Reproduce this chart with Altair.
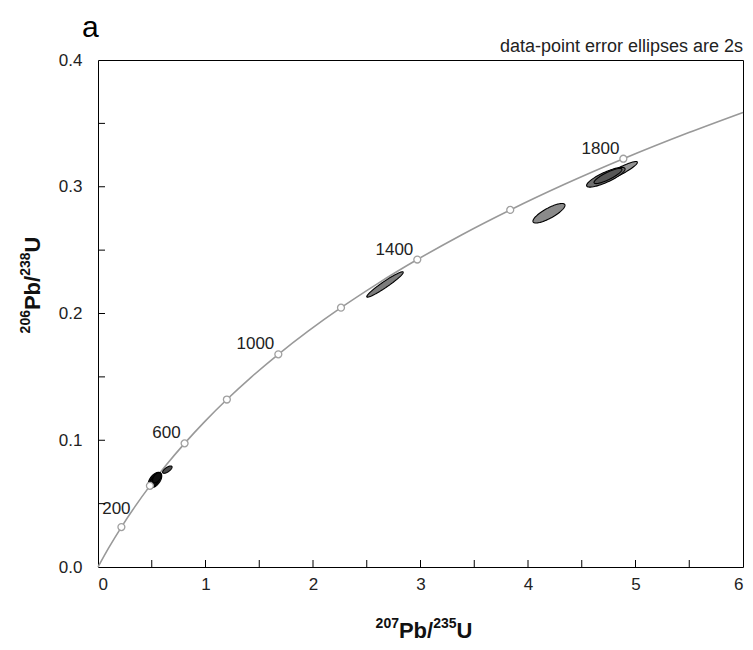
import numpy as np
import pandas as pd
import altair as alt

# Concordia curve points (207Pb/235U, 206Pb/238U), ages in Ma
curve_age = [0, 100, 200, 300, 400, 500, 600, 700, 800, 900, 1000, 1100, 1200,
             1300, 1400, 1500, 1600, 1700, 1800, 1900, 1976]
curve_x = [0.0, 0.1035, 0.2177, 0.3437, 0.4828, 0.6363, 0.8056, 0.9925, 1.1988,
           1.4263, 1.6775, 1.9546, 2.2604, 2.5978, 2.9702, 3.3811, 3.8346, 4.3349,
           4.8871, 5.4964, 6.0]
curve_y = [0.0, 0.01563, 0.03151, 0.04764, 0.06402, 0.08065, 0.09754, 0.11470,
           0.13213, 0.14983, 0.16780, 0.18606, 0.20460, 0.22343, 0.24256, 0.26199,
           0.28171, 0.30175, 0.32210, 0.34277, 0.35867]

# Age markers (every 200 Ma) and labelled ages
marker_ages = [200, 400, 600, 800, 1000, 1200, 1400, 1600, 1800]
label_ages = [200, 600, 1000, 1400, 1800]

# Error ellipses: centre, 2s half-widths, error correlation, fill tone
ell_id = ["e3b", "e3a", "e3c", "e1", "e2", "e4a", "e4b", "e4c", "e5"]
ell_cx = [4.844, 4.724, 4.744, 2.670, 4.195, 0.530, 0.515, 0.548, 0.645]
ell_cy = [0.3118, 0.3075, 0.3085, 0.2229, 0.2791, 0.0686, 0.0668, 0.0705, 0.0768]
ell_sx = [0.174, 0.179, 0.130, 0.170, 0.149, 0.063, 0.045, 0.040, 0.044]
ell_sy = [0.0081, 0.0078, 0.0060, 0.0100, 0.0077, 0.0061, 0.0048, 0.0040, 0.0029]
ell_rho = [0.92, 0.83, 0.85, 0.958, 0.81, 0.52, 0.60, 0.50, 0.70]
ell_fill = ["#959595", "#6e6e6e", "#575757", "#7c7c7c", "#8a8a8a",
            "#111111", "#111111", "#111111", "#4a4a4a"]

x_tick_vals = [0.5, 1, 1.5, 2, 2.5, 3, 3.5, 4, 4.5, 5, 5.5]
y_tick_vals = [0.05, 0.1, 0.15, 0.2, 0.25, 0.3, 0.35]
x_label_vals = [0, 1, 2, 3, 4, 5, 6]
y_label_vals = [0.0, 0.1, 0.2, 0.3, 0.4]

W, H = 645, 507
FONT = "Liberation Sans"
MAIN, SUP = 22, 14

curve_df = pd.DataFrame({"age": curve_age, "x": curve_x, "y": curve_y})
markers_df = curve_df[curve_df["age"].isin(marker_ages)]
labels_df = curve_df[curve_df["age"].isin(label_ages)].copy()
labels_df["label"] = labels_df["age"].astype(str)

xscale = alt.Scale(domain=[0, 6], nice=False, zero=False)
yscale = alt.Scale(domain=[0, 0.4], nice=False, zero=False)

xaxis = alt.Axis(values=x_label_vals, format="d", ticks=False, domain=False, grid=False,
                 labelFont=FONT, labelFontSize=17, labelColor="#222", labelPadding=9,
                 title=None)
yaxis = alt.Axis(values=y_label_vals, format=".1f", ticks=False, domain=False, grid=False,
                 labelFont=FONT, labelFontSize=17, labelColor="#222", labelPadding=16,
                 title=None)

layers = []

layers.append(alt.Chart(curve_df).mark_line(color="#999999", strokeWidth=1.6,
                                            interpolate="monotone").encode(
    x=alt.X("x:Q", scale=xscale, axis=xaxis),
    y=alt.Y("y:Q", scale=yscale, axis=yaxis),
    order="age:Q",
))

# Error ellipses: filled area (upper/lower halves) + closed outline
tt = np.linspace(0, np.pi, 73)
tt2 = np.linspace(0, 2 * np.pi, 121)
for k, eid in enumerate(ell_id):
    r = ell_rho[k]
    q = np.sqrt(1 - r * r)
    c, s = np.cos(tt), np.sin(tt)
    fill_df = pd.DataFrame({
        "x": ell_cx[k] + ell_sx[k] * c,
        "y": ell_cy[k] + ell_sy[k] * (r * c + q * s),
        "y2": ell_cy[k] + ell_sy[k] * (r * c - q * s),
    }).sort_values("x")
    c2, s2 = np.cos(tt2), np.sin(tt2)
    line_df = pd.DataFrame({
        "t": np.arange(len(tt2)),
        "x": ell_cx[k] + ell_sx[k] * c2,
        "y": ell_cy[k] + ell_sy[k] * (r * c2 + q * s2),
    })
    layers.append(alt.Chart(fill_df).mark_area(color=ell_fill[k], opacity=1).encode(
        x=alt.X("x:Q", scale=xscale),
        y=alt.Y("y:Q", scale=yscale),
        y2="y2:Q",
    ))
    layers.append(alt.Chart(line_df).mark_line(color="#000000", strokeWidth=1.1).encode(
        x=alt.X("x:Q", scale=xscale),
        y=alt.Y("y:Q", scale=yscale),
        order="t:Q",
    ))

layers.append(alt.Chart(markers_df).mark_point(shape="circle", filled=True, fill="white",
                                               stroke="#a0a0a0", strokeWidth=1.3,
                                               size=48, opacity=1).encode(
    x=alt.X("x:Q", scale=xscale),
    y=alt.Y("y:Q", scale=yscale),
))

layers.append(alt.Chart(labels_df[labels_df["age"] != 200]).mark_text(
    align="right", baseline="alphabetic", dx=-4, dy=-5,
    font=FONT, fontSize=17, color="#222").encode(
    x=alt.X("x:Q", scale=xscale),
    y=alt.Y("y:Q", scale=yscale),
    text="label:N",
))
layers.append(alt.Chart(labels_df[labels_df["age"] == 200]).mark_text(
    align="center", baseline="alphabetic", dx=-5, dy=-13,
    font=FONT, fontSize=17, color="#222").encode(
    x=alt.X("x:Q", scale=xscale),
    y=alt.Y("y:Q", scale=yscale),
    text="label:N",
))

layers.append(alt.Chart(pd.DataFrame({"x": x_tick_vals})).mark_rule(
    color="#000", strokeWidth=1).encode(
    x=alt.X("x:Q", scale=xscale),
    y=alt.value(H), y2=alt.value(H - 7),
))
layers.append(alt.Chart(pd.DataFrame({"y": y_tick_vals})).mark_rule(
    color="#000", strokeWidth=1).encode(
    y=alt.Y("y:Q", scale=yscale),
    x=alt.value(0), x2=alt.value(7),
))


def text_layer(txt, px, py, size, bold=False, font=FONT, angle=None, baseline="alphabetic",
               align="left", color="#111"):
    kw = dict(align=align, baseline=baseline, font=font, fontSize=size, color=color)
    if bold:
        kw["fontWeight"] = "bold"
    if angle is not None:
        kw["angle"] = angle
    return alt.Chart(pd.DataFrame({"t": [txt]})).mark_text(**kw).encode(
        x=alt.value(px), y=alt.value(py), text="t:N")


# x-axis title: 207Pb/235U with superscripts
x_parts = [("207", SUP), ("Pb/", MAIN), ("235", SUP), ("U", MAIN)]
adv = {"P": 0.667, "b": 0.611, "/": 0.278, "U": 0.722}
widths = [sum(adv.get(ch, 0.556) for ch in t) * sz for t, sz in x_parts]
xt_center, xt_base, sup_raise = 326, 578, 10
pos = xt_center - sum(widths) / 2
for (t, sz), w in zip(x_parts, widths):
    layers.append(text_layer(t, pos, xt_base - (sup_raise if sz == SUP else 0), sz, bold=True))
    pos += w

# y-axis title: 206Pb/238U rotated
y_parts = [("206", SUP), ("Pb/", MAIN), ("238", SUP), ("U", MAIN)]
widths = [sum(adv.get(ch, 0.556) for ch in t) * sz for t, sz in y_parts]
yt_center, yt_base = 225, -58
pos = yt_center + sum(widths) / 2
for (t, sz), w in zip(y_parts, widths):
    layers.append(text_layer(t, yt_base - (sup_raise if sz == SUP else 0), pos, sz,
                             bold=True, angle=270))
    pos -= w

layers.append(text_layer("data-point error ellipses are 2s", W, -8, 18, align="right",
                         color="#222"))
layers.append(text_layer("a", -16, -23, 30, color="#000"))

chart = alt.layer(*layers).properties(
    width=W, height=H,
    padding={"left": 90, "top": 52, "right": 2, "bottom": 75},
    autosize=alt.AutoSizeParams(type="none"),
    background="white",
).configure_view(stroke="#000000", strokeWidth=1)

chart.save("out.html", embed_options={"renderer": "svg", "actions": False})
